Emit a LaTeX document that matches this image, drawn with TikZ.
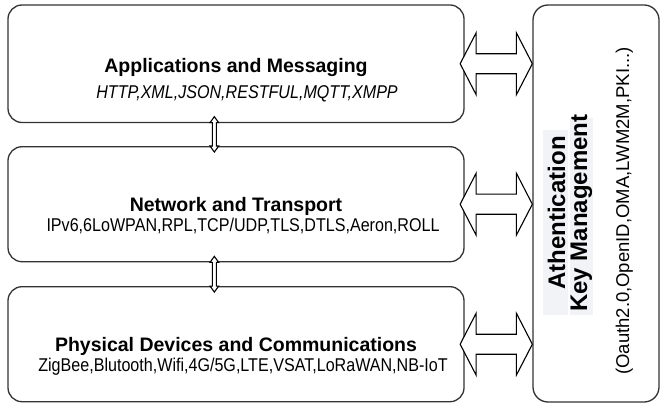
\documentclass[tikz,border=0pt]{standalone}
\usepackage{fontspec}
\setmainfont{Liberation Sans}
\newfontfamily\narrowsans[FakeStretch=0.87]{Liberation Sans}
\usetikzlibrary{calc}

\definecolor{edge}{RGB}{51,51,51}
\definecolor{hilite}{RGB}{242,243,247}

% horizontal two-headed block arrow between two points on one level
\newcommand\sidearrow[2]{%
  \draw[blockarrow] let \p1=(#1), \p2=(#2) in
    (\x1,\y1) -- (\x1+16pt,\y1+31pt) -- (\x1+16pt,\y1+10pt)
    -- (\x2-16pt,\y1+10pt) -- (\x2-16pt,\y1+31pt) -- (\x2,\y1)
    -- (\x2-16pt,\y1-31pt) -- (\x2-16pt,\y1-10pt)
    -- (\x1+16pt,\y1-10pt) -- (\x1+16pt,\y1-31pt) -- cycle;}

% thin vertical two-headed arrow from an upper point to a lower one
\newcommand\layerlink[2]{%
  \draw[blockarrow] let \p1=(#1), \p2=(#2) in
    (\x1,\y1) -- (\x1+4.3pt,\y1-6pt) -- (\x1+2pt,\y1-6pt)
    -- (\x1+2pt,\y2+6pt) -- (\x1+4.3pt,\y2+6pt) -- (\x1,\y2)
    -- (\x1-4.3pt,\y2+6pt) -- (\x1-2pt,\y2+6pt)
    -- (\x1-2pt,\y1-6pt) -- (\x1-4.3pt,\y1-6pt) -- cycle;}

\begin{document}
\begin{tikzpicture}[x=1pt,y=-1pt,
  layer/.style={draw=edge, line width=1.3pt, rounded corners=14pt,
    fill=white, inner sep=0pt},
  blockarrow/.style={draw=black, line width=1.1pt, fill=white,
    line join=miter},
  title/.style={anchor=base, inner sep=0pt,
    font=\fontsize{19.5}{22}\selectfont\bfseries},
  detail/.style={anchor=base, inner sep=0pt,
    font=\fontsize{18.5}{21}\narrowsans},
  sidetitle/.style={rotate=90, anchor=base, inner sep=0pt,
    font=\fontsize{24}{27}\selectfont\bfseries},
  sidedetail/.style={rotate=90, anchor=base, inner sep=0pt,
    font=\fontsize{18.5}{21}\selectfont}]

\useasboundingbox (0,0) rectangle (660,403);

% the three stacked layers
\node[layer, minimum width=456pt, minimum height=117.5pt] (app) at (236,63.75) {};
\node[layer, minimum width=456pt, minimum height=115pt]   (net) at (236,204.2) {};
\node[layer, minimum width=456pt, minimum height=115pt]   (phy) at (236,344.2) {};

% the security column on the right
\node[layer, rounded corners=15pt, minimum width=126pt, minimum height=397pt] (auth) at (596,203.5) {};

% layer captions
\node[title]  (appT) at (236,72.7)  {Applications and Messaging};
\node[detail] (appD) at (247,99)    {\itshape HTTP,XML,JSON,RESTFUL,MQTT,XMPP};
\node[title]  (netT) at (236,211.7) {Network and Transport};
\node[detail] (netD) at (243,231.7) {IPv6,6LoWPAN,RPL,TCP/UDP,TLS,DTLS,Aeron,ROLL};
\node[title]  (phyT) at (236,351.7) {Physical Devices and Communications};
\node[detail] (phyD) at (243,371.7) {ZigBee,Blutooth,Wifi,4G/5G,LTE,VSAT,LoRaWAN,NB-IoT};

% shaded strips behind the column heading
\fill[hilite] (543,130) rectangle (568,315);
\fill[hilite] (570,118) rectangle (593,315);

% column heading and protocol list
\node[sidetitle]  (authA) at (565,213) {Athentication};
\node[sidetitle]  (authK) at (587,213) {Key Management};
\node[sidedetail] (authD) at (629,211) {(Oauth2.0,OpenID,OMA,LWM2M,PKI...)};

% anchor points for the connectors
\coordinate (appE) at ($(app.east)+(-4.5,0)$);
\coordinate (netE) at ($(net.east)+(-4.5,0)$);
\coordinate (phyE) at ($(phy.east)+(-4.5,0)$);
\coordinate (appA) at (auth.west |- app.east);
\coordinate (netA) at (auth.west |- net.east);
\coordinate (phyA) at (auth.west |- phy.east);
\coordinate (appS) at ($(app.south west)+(207,-6.5)$);
\coordinate (netN) at ($(net.north west)+(207,6)$);
\coordinate (netS) at ($(net.south west)+(207,-6)$);
\coordinate (phyN) at ($(phy.north west)+(207,6)$);

% links between each layer and the security column
\sidearrow{appE}{appA}
\sidearrow{netE}{netA}
\sidearrow{phyE}{phyA}

% links between neighbouring layers
\layerlink{appS}{netN}
\layerlink{netS}{phyN}
\end{tikzpicture}
\end{document}
